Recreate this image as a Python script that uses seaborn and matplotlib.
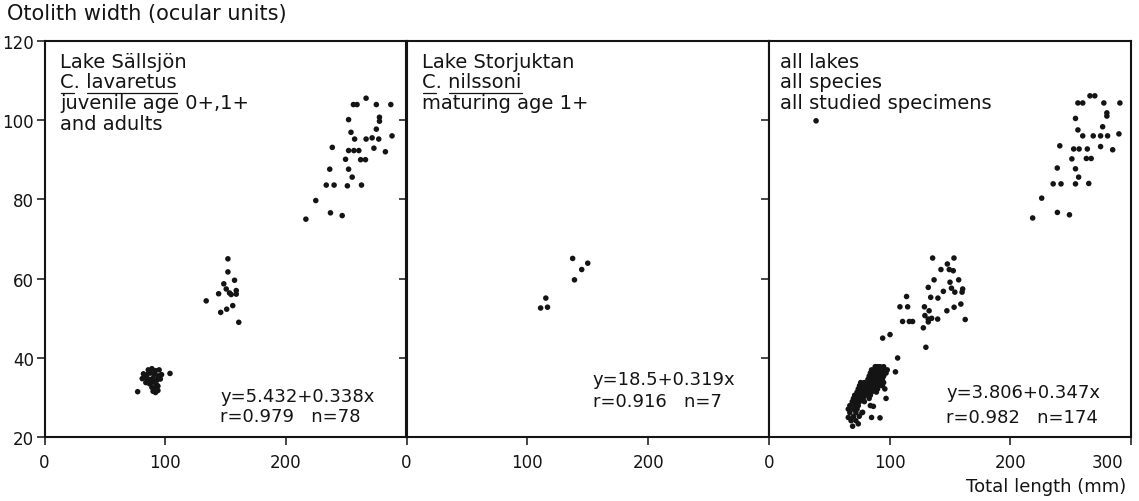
import matplotlib
matplotlib.use("Agg")
import matplotlib.pyplot as plt
import matplotlib.transforms as mtransforms
import seaborn as sns

# ---------------- data ----------------
# Panel 1: Lake Sällsjön, C. lavaretus (juveniles + adults)
sal_len = [
    # adults
    266.5, 256, 259, 275, 287, 252, 277.6, 277.6, 254, 275, 257, 266.5, 271.5, 277,
    288, 238.5, 252, 256.4, 260.5, 273, 282.5, 249.5, 262, 266, 236.4, 252, 255,
    233.5, 240, 251, 262.7, 224.8, 237, 246.7, 216.6,
    # age 1+
    152, 152, 157.5, 148.6, 144.3, 153.3, 158.9, 158.9, 150.6, 154.7, 134, 146, 151, 156, 161,
    # age 0+
    77.2, 104, 86, 89, 92, 95, 82, 85, 88, 91, 94, 97, 81, 84, 87, 90, 93, 96,
    84, 87, 90, 93, 89, 92, 94, 90, 92, 94,
]
sal_wid = [
    105.5, 103.9, 103.9, 103.9, 103.9, 100.1, 100.7, 99.7, 96.9, 97.7, 95.2, 95.2, 95.5, 95.2,
    96.0, 93.1, 92.3, 92.3, 92.3, 92.9, 92.0, 90.1, 90.0, 90.0, 87.6, 87.6, 85.6,
    83.6, 83.6, 83.4, 83.6, 79.7, 76.6, 75.9, 75.0,
    65.0, 61.7, 59.6, 58.7, 56.2, 56.4, 57.0, 56.1, 57.4, 56.0, 54.4, 51.5, 52.3, 53.2, 49.0,
    31.5, 36.1, 37.0, 37.3, 36.8, 37.0, 36.0, 35.8, 36.2, 35.9, 35.5, 35.8, 34.8, 35.0, 34.6, 34.9, 34.4, 34.7,
    33.8, 33.5, 33.9, 33.2, 32.6, 32.4, 32.9, 31.6, 31.3, 31.8,
]

# Panel 2: Lake Storjuktan, C. nilssoni (maturing age 1+)
sto_len = [137.5, 150, 145, 139, 115.3, 111, 116.7]
sto_wid = [65.1, 63.9, 62.3, 59.7, 55.1, 52.6, 52.8]

# Panel 3: all lakes, all species, all studied specimens
all_len = [
    # large fish
    266, 270, 256, 260, 277.5, 290.8, 254, 280, 280, 276.5, 256, 260, 268.7, 274.8, 280.6,
    290, 241, 252.5, 257, 263.8, 274.8, 284.8, 251, 263, 267, 238.9, 254, 256.6,
    235.5, 242, 254, 265, 226, 218.5, 239, 249,
    # medium fish
    135.6, 153.3, 147.8, 142.5, 149.4, 152.7, 136.8, 150, 157.2, 132, 144.5, 151.2, 154,
    160.5, 160, 114, 134, 140, 108.5, 114.9, 128.8, 132.7, 147.4, 153.4, 159, 129.2,
    132, 134.8, 132, 139.8, 110.7, 116.3, 119, 162.6, 127.9, 94.2, 100.3, 130, 106.6,
    104.8, 39,
    # small fish
    88, 90, 92, 95,
    85, 87, 89, 91, 93, 96, 98,
    84, 86, 88, 90, 92, 94, 97,
    83, 85, 87, 89, 91, 93, 95,
    82, 84, 86, 88, 90, 94,
    76, 79, 83, 86, 89, 92, 95,
    75, 78, 81, 84, 88, 91, 94,
    74, 77, 80, 83, 87, 90, 96,
    73, 76, 79, 82, 85, 89,
    71, 74, 77, 80, 84,
    70, 73, 76, 78, 83, 97,
    69, 72, 75, 79,
    67, 71, 74, 84, 86.5,
    65.7, 70, 73, 77.6,
    67, 72, 77,
    65.7, 70, 74.8, 85, 92,
    68, 72,
    69.3, 74,
]
all_wid = [
    106.1, 106.1, 104.3, 104.3, 104.3, 104.3, 100.4, 101.8, 101.0, 98.3, 97.5, 96.0, 96.0, 96.0, 96.0,
    96.5, 93.5, 92.7, 92.7, 92.7, 93.3, 92.5, 90.2, 90.3, 90.3, 87.9, 87.7, 85.6,
    83.9, 83.9, 83.9, 84.0, 80.3, 75.3, 76.7, 76.1,
    65.2, 65.2, 63.7, 62.3, 62.3, 62.0, 59.7, 59.1, 59.7, 57.8, 56.8, 57.6, 56.6,
    57.4, 56.6, 55.5, 55.3, 55.1, 52.9, 52.9, 52.9, 51.9, 51.9, 52.8, 53.6, 50.7,
    49.8, 50.0, 49.1, 49.8, 49.2, 49.2, 49.2, 49.7, 47.6, 45.0, 45.9, 42.7, 40.0,
    36.5, 99.8,
    37.8, 37.8, 37.8, 37.8,
    37.0, 37.0, 37.0, 37.0, 37.0, 37.0, 37.0,
    36.2, 36.2, 36.2, 36.2, 36.2, 36.2, 36.2,
    35.4, 35.4, 35.4, 35.4, 35.4, 35.4, 35.4,
    34.6, 34.6, 34.6, 34.6, 34.6, 34.6,
    33.8, 33.8, 33.8, 33.8, 33.8, 33.8, 33.8,
    33.0, 33.0, 33.0, 33.0, 33.0, 33.0, 33.0,
    32.2, 32.2, 32.2, 32.2, 32.2, 32.2, 32.2,
    31.4, 31.4, 31.4, 31.4, 31.4, 31.4,
    30.6, 30.6, 30.6, 30.6, 30.6,
    29.8, 29.8, 29.8, 29.8, 29.8, 29.8,
    29.0, 29.0, 29.0, 29.0,
    28.0, 28.0, 28.0, 28.0, 27.8,
    27.1, 27.1, 27.1, 26.3,
    26.2, 26.2, 26.2,
    25.0, 25.2, 25.3, 25.0, 24.9,
    24.2, 24.2,
    22.8, 23.4,
]

panel_text = [
    ["Lake Sällsjön", "C. lavaretus", "juvenile age 0+,1+", "and adults"],
    ["Lake Storjuktan", "C. nilssoni", "maturing age 1+"],
    ["all lakes", "all species", "all studied specimens"],
]
species = ["lavaretus", "nilssoni", None]
equations = [
    ("y=5.432+0.338x", "r=0.979   n=78"),
    ("y=18.5+0.319x", "r=0.916   n=7"),
    ("y=3.806+0.347x", "r=0.982   n=174"),
]
x_ticks = [[0, 100, 200], [0, 100, 200], [0, 100, 200, 300]]
y_ticks = [20, 40, 60, 80, 100, 120]
y_title = "Otolith width (ocular units)"
x_title = "Total length (mm)"

# ---------------- figure ----------------
sns.set_theme(style="ticks")
plt.rcParams["font.family"] = ["DejaVu Sans"]
INK = "#141414"
W, H = 1139, 502
fig = plt.figure(figsize=(W / 100, H / 100), dpi=100)
TOP, BOT = 41.7, 438.3
edges = [(44.5, 406.5), (406.5, 769.0), (769.0, 1131.0)]
axes = [fig.add_axes([l / W, 1 - BOT / H, (r - l) / W, (BOT - TOP) / H]) for l, r in edges]

data = [(sal_len, sal_wid), (sto_len, sto_wid), (all_len, all_wid)]
FS_EQ = 13
FS_LAB = 14
text_left_px = [16, 16, 11]
eq_pos = [(0.485, 0.105, 0.053), (0.514, 0.147, 0.092), (0.489, 0.113, 0.052)]
line_px = [62, 82, 103.3, 125]

renderer = fig.canvas.get_renderer()


def width_px(s, fs):
    t = fig.text(0, 0, s, fontsize=fs)
    w = t.get_window_extent(renderer).width
    t.remove()
    return w


for i, ax in enumerate(axes):
    xs, ys = data[i]
    sns.scatterplot(x=xs, y=ys, ax=ax, s=16, color=INK, edgecolor="none", linewidth=0)
    ax.set_xlim(0, 300)
    ax.set_ylim(20, 120)
    ax.set_xticks(x_ticks[i])
    ax.set_yticks(y_ticks)
    if i > 0:
        ax.set_yticklabels([])
    for sp in ax.spines.values():
        sp.set_visible(True)
        sp.set_linewidth(1.5)
        sp.set_color(INK)
    ax.tick_params(axis="both", direction="out", length=5.5, width=1.1, color=INK,
                   labelsize=12, labelcolor=INK)
    ax.tick_params(axis="x", pad=6)
    ax.tick_params(axis="y", pad=2)
    ax.set_xlabel("")
    ax.set_ylabel("")
    ax.patch.set_facecolor("white")

    axw = edges[i][1] - edges[i][0]
    x0 = text_left_px[i] / axw
    for j, line in enumerate(panel_text[i]):
        yf = (BOT - line_px[j]) / (BOT - TOP)
        ax.text(x0, yf, line, transform=ax.transAxes, ha="left", va="center",
                fontsize=FS_LAB, color=INK)
    if species[i]:
        full = "C. " + species[i]
        wfull = width_px(full, FS_LAB)
        wsp = width_px(species[i], FS_LAB)
        wc = width_px("C", FS_LAB)
        yu = (BOT - 93.6) / (BOT - TOP)
        ax.plot([x0, x0 + wc / axw], [yu, yu], transform=ax.transAxes, color=INK, lw=0.9,
                clip_on=False)
        ax.plot([x0 + (wfull - wsp) / axw, x0 + wfull / axw], [yu, yu],
                transform=ax.transAxes, color=INK, lw=0.9, clip_on=False)

    ex, ey1, ey2 = eq_pos[i]
    ax.text(ex, ey1, equations[i][0], transform=ax.transAxes, ha="left", va="center",
            fontsize=FS_EQ, color=INK)
    ax.text(ex, ey2, equations[i][1], transform=ax.transAxes, ha="left", va="center",
            fontsize=FS_EQ, color=INK)

# the last "300" label sits left of its tick, as in the original
last = axes[2].get_xticklabels()[-1]
last.set_horizontalalignment("right")
last.set_transform(last.get_transform() + mtransforms.ScaledTranslation(-8 / 100, 0, fig.dpi_scale_trans))

fig.text(7 / W, 1 - 14 / H, y_title, ha="left", va="center", fontsize=15, color=INK)
fig.text(1126 / W, 1 - 487 / H, x_title, ha="right", va="center", fontsize=13, color=INK)

fig.savefig("out.png", dpi=100, facecolor="white")
